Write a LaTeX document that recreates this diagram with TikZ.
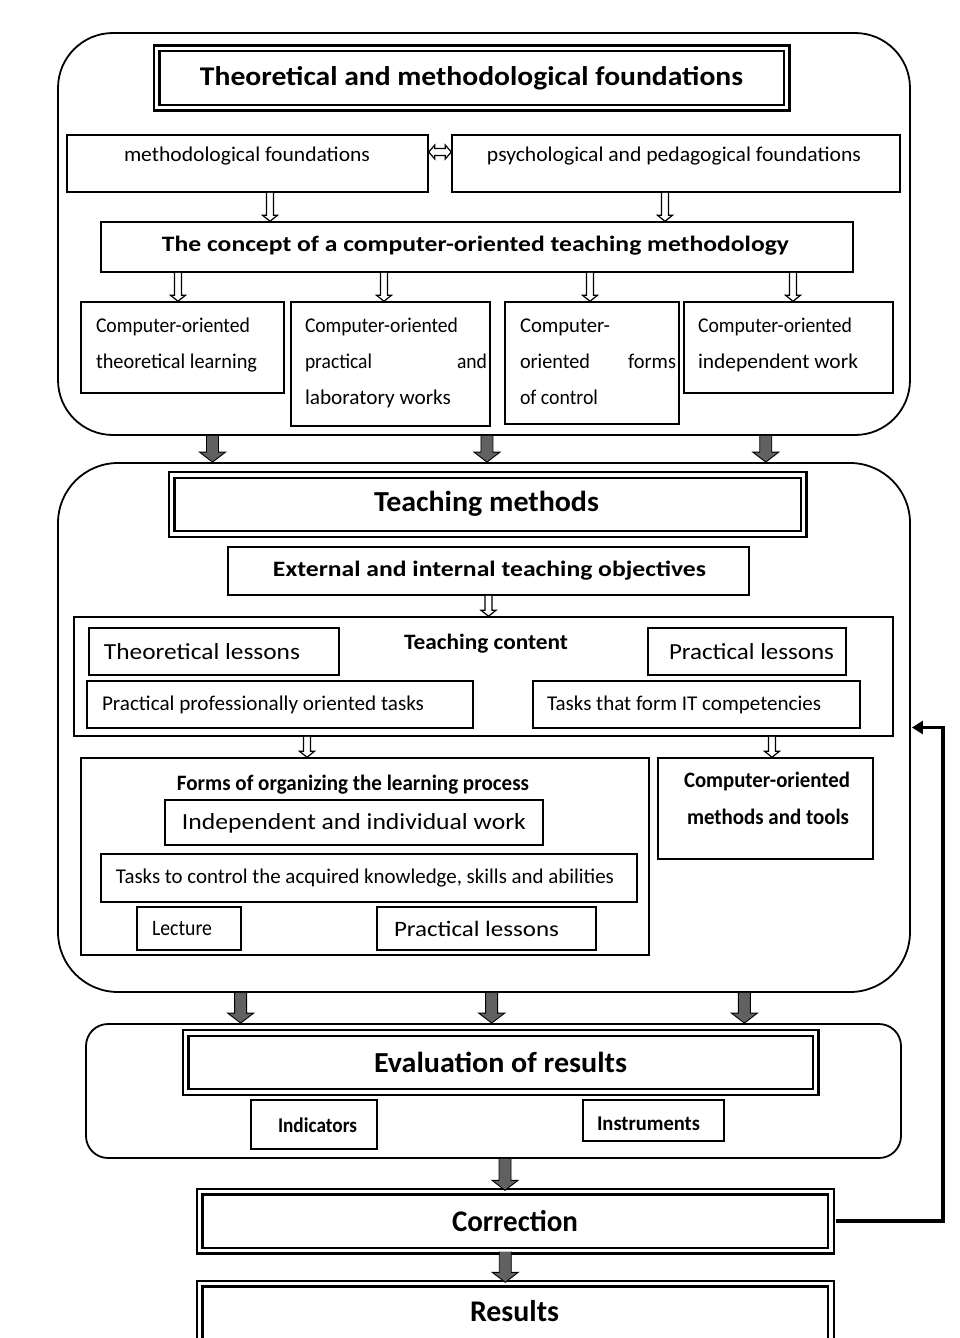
\documentclass[tikz,border=0pt]{standalone}
\usepackage{fontspec}
\setmainfont{Carlito}
\usepackage{graphicx}
\usetikzlibrary{fit,calc,arrows.meta}

% text set at a given size and squeezed/stretched to a given width
\newcommand{\fwh}[3]{\resizebox{#1pt}{\height}{\fontsize{#2}{#2}\selectfont #3}}
\newcommand{\hdown}[2]{\path[thin arrow] let \p1=#1, \p2=#2 in
  (\x1-3.5pt,\y1) -- (\x1-3.5pt,\y2+6pt) -- (\x1-7.5pt,\y2+6pt) -- (\x1,\y2) --
  (\x1+7.5pt,\y2+6pt) -- (\x1+3.5pt,\y2+6pt) -- (\x1+3.5pt,\y1);}
\newcommand{\fdown}[2]{\path[fat arrow] let \p1=#1, \p2=#2 in
  (\x1-6pt,\y1) -- (\x1-6pt,\y2+10pt) -- (\x1-13pt,\y2+10pt) -- (\x1,\y2) --
  (\x1+13pt,\y2+10pt) -- (\x1+6pt,\y2+10pt) -- (\x1+6pt,\y1);}
\newcommand{\hboth}[2]{\path[thin arrow] let \p1=#1, \p2=#2 in
  (\x1,\y1) -- (\x1+6pt,\y1+7pt) -- (\x1+6pt,\y1+3.5pt) -- (\x2-6pt,\y1+3.5pt) --
  (\x2-6pt,\y1+7pt) -- (\x2,\y1) -- (\x2-6pt,\y1-7pt) -- (\x2-6pt,\y1-3.5pt) --
  (\x1+6pt,\y1-3.5pt) -- (\x1+6pt,\y1-7pt) -- cycle;}

\tikzset{
  box/.style={draw, line width=1.5pt, inner sep=0pt},
  dbox/.style={draw, line width=2.4pt, double, double distance=3.2pt, inner sep=0pt},
  rbox/.style={draw, line width=1.8pt, inner sep=0pt},
  txt/.style={inner sep=0pt, outer sep=0pt},
  btxt/.style={inner sep=0pt, outer sep=0pt, anchor=base west},
  thin arrow/.style={draw, line width=1.2pt, fill=white},
  fat arrow/.style={draw, line width=0.9pt, fill=black!62},
  feedback/.style={line width=3.6pt, -{Triangle[length=11pt,width=13pt]}}
}

\begin{document}
\begin{tikzpicture}[x=1pt,y=-1pt]
\useasboundingbox (0,0) rectangle (960,1338);
\fill[white] (0,0) rectangle (960,1338);

% ---------- block 1 ----------
\node[rbox, rounded corners=55pt, fit={(58,33) (910,435)}] (B1) {};
\node[dbox, fit={(156.5,48.5) (786.5,107.5)}] (tmf) {};
\node[txt] (t1) at (471.5,78) {\fwh{543}{27}{\bfseries Theoretical and methodological foundations}};

\node[box, fit={(67,135) (428,192)}] (methf) {};
\node[txt] (t2) at (247,156) {\fwh{246}{21}{methodological foundations}};
\node[box, fit={(452,135) (900,192)}] (psych) {};
\node[txt] (t3) at (674,156) {\fwh{374}{21}{psychological and pedagogical foundations}};

\node[box, fit={(101,222) (853,272)}] (concept) {};
\node[txt] (t4) at (475.5,246) {\fwh{627}{22}{\bfseries The concept of a computer-oriented teaching methodology}};

\node[box, fit={(81,302) (284,393)}] (c1) {};
\node[box, fit={(291,302) (490,426)}] (c2) {};
\node[box, fit={(505,302) (679,424)}] (c3) {};
\node[box, fit={(684,302) (893,393)}] (c4) {};

\node[btxt] (c1a) at (96,332) {\fwh{154}{21}{Computer-oriented}};
\node[btxt] (c1b) at (96,368) {\fwh{161}{21}{theoretical learning}};
\node[btxt] (c2a) at (305,332) {\fwh{153}{21}{Computer-oriented}};
\node[btxt] (c2b) at (305,368) {\fwh{67}{21}{practical}};
\node[btxt, anchor=base east] (c2c) at (487,368) {\fwh{30}{21}{and}};
\node[btxt] (c2d) at (305,404) {\fwh{146}{21}{laboratory works}};
\node[btxt] (c3a) at (520,332) {\fwh{90}{21}{Computer-}};
\node[btxt] (c3b) at (520,368) {\fwh{70}{21}{oriented}};
\node[btxt, anchor=base east] (c3c) at (676,368) {\fwh{48}{21}{forms}};
\node[btxt] (c3d) at (520,404) {\fwh{78}{21}{of control}};
\node[btxt] (c4a) at (698,332) {\fwh{154}{21}{Computer-oriented}};
\node[btxt] (c4b) at (698,368) {\fwh{160}{21}{independent work}};

\hboth{($(methf.east)+(0,-11.5)$)}{(psych.west)}
\hdown{($(methf.south)+(22.5,0)$)}{(concept.north)}
\hdown{($(psych.south)+(-11,0)$)}{(concept.north)}
\hdown{($(concept.south -| c1.north)+(-4.5,0)$)}{(c1.north)}
\hdown{($(concept.south -| c2.north)+(-6.5,0)$)}{(c2.north)}
\hdown{($(concept.south -| c3.north)+(-2,0)$)}{(c3.north)}
\hdown{($(concept.south -| c4.north)+(4.5,0)$)}{(c4.north)}

% ---------- block 2 ----------
\node[rbox, rounded corners=60pt, fit={(58,463) (910,992)}] (B2) {};
\node[dbox, fit={(171.5,475) (803.5,534)}] (tm) {};
\node[txt] (t6) at (486.5,504) {\fwh{225}{29}{\bfseries Teaching methods}};

\node[box, fit={(228,547) (749,595)}] (obj) {};
\node[txt] (t7) at (489.5,571) {\fwh{433}{22}{\bfseries External and internal teaching objectives}};

\node[box, fit={(74,617) (893,736)}] (content) {};
\node[txt] (t8) at (486,644) {\fwh{164}{22}{\bfseries Teaching content}};
\node[box, fit={(89,628) (339,675)}] (thl) {};
\node[txt] (t9) at (202,652) {\fwh{196}{23}{Theoretical lessons}};
\node[box, fit={(648,628) (846,675)}] (prl) {};
\node[txt] (t10) at (751.5,652) {\fwh{165}{23}{Practical lessons}};
\node[box, fit={(87,681) (473,728)}] (ppt) {};
\node[txt] (t11) at (263,705) {\fwh{322}{21}{Practical professionally oriented tasks}};
\node[box, fit={(533,681) (860,728)}] (itc) {};
\node[txt] (t12) at (684,705) {\fwh{274}{21}{Tasks that form IT competencies}};

\node[box, fit={(81,758) (649,955)}] (forms) {};
\node[txt] (t13) at (353,785) {\fwh{352}{22}{\bfseries Forms of organizing the learning process}};
\node[box, fit={(165,800) (543,845)}] (indiv) {};
\node[txt] (t14) at (354,823) {\fwh{344}{23}{Independent and individual work}};
\node[box, fit={(101,854) (637,902)}] (ctrl) {};
\node[txt] (t15) at (365,878) {\fwh{498}{21}{Tasks to control the acquired knowledge, skills and abilities}};
\node[box, fit={(137,907) (241,950)}] (lect) {};
\node[txt] (t16) at (182,929) {\fwh{60}{22}{Lecture}};
\node[box, fit={(377,907) (596,950)}] (prl2) {};
\node[txt] (t17) at (476.5,929) {\fwh{165}{22}{Practical lessons}};

\node[box, fit={(658,758) (873,859)}] (comt) {};
\node[txt] (t18a) at (767,782) {\fwh{166}{22}{\bfseries Computer-oriented}};
\node[txt] (t18b) at (768,817) {\fwh{162}{22}{\bfseries methods and tools}};

\hdown{(obj.south)}{(content.north)}
\hdown{($(content.south -| forms.north)+(-58,0)$)}{(forms.north)}
\hdown{($(content.south -| comt.north)+(6.5,0)$)}{(comt.north)}

\fdown{($(B1.south west)!0.182!(B1.south east)$)}{(B2.north)}
\fdown{($(B1.south west)!0.5035!(B1.south east)$)}{(B2.north)}
\fdown{($(B1.south west)!0.830!(B1.south east)$)}{(B2.north)}

% ---------- block 3 ----------
\node[rbox, rounded corners=22pt, fit={(86,1024) (901,1158)}] (B3) {};
\node[dbox, fit={(185.5,1033) (815.5,1092)}] (eval) {};
\node[txt] (t19) at (500.5,1062) {\fwh{253}{29}{\bfseries Evaluation of results}};
\node[box, fit={(251,1100) (377,1149)}] (indic) {};
\node[txt] (t20a) at (317.5,1125) {\fwh{79}{21}{\bfseries Indicators}};
\node[box, fit={(583,1100) (724,1141)}] (instr) {};
\node[txt] (t20b) at (648.5,1124) {\fwh{103}{21}{\bfseries Instruments}};

\fdown{($(B2.south west)!0.215!(B2.south east)$)}{(B3.north)}
\fdown{($(B2.south west)!0.509!(B2.south east)$)}{(B3.north)}
\fdown{($(B2.south west)!0.805!(B2.south east)$)}{(B3.north)}

% ---------- correction / results ----------
\node[dbox, fit={(199.5,1191.5) (831,1250.5)}] (corr) {};
\node[txt] (t21) at (515,1221) {\fwh{126}{30}{\bfseries Correction}};
\node[dbox, fit={(199.5,1283.5) (831,1352)}] (res) {};
\node[txt] (t22) at (514.5,1311) {\fwh{89}{30}{\bfseries Results}};

\fdown{($(B3.south)+(11.5,0)$)}{(corr.north)}
\fdown{($(corr.south)+(-10,0)$)}{(res.north)}

\coordinate (fbx) at ($(B2.east)+(32,0)$);
\draw[feedback] ($(corr.east)+(4,0)$) -| (fbx) -- ($(B2.east)+(1,0)$);
\end{tikzpicture}
\end{document}
